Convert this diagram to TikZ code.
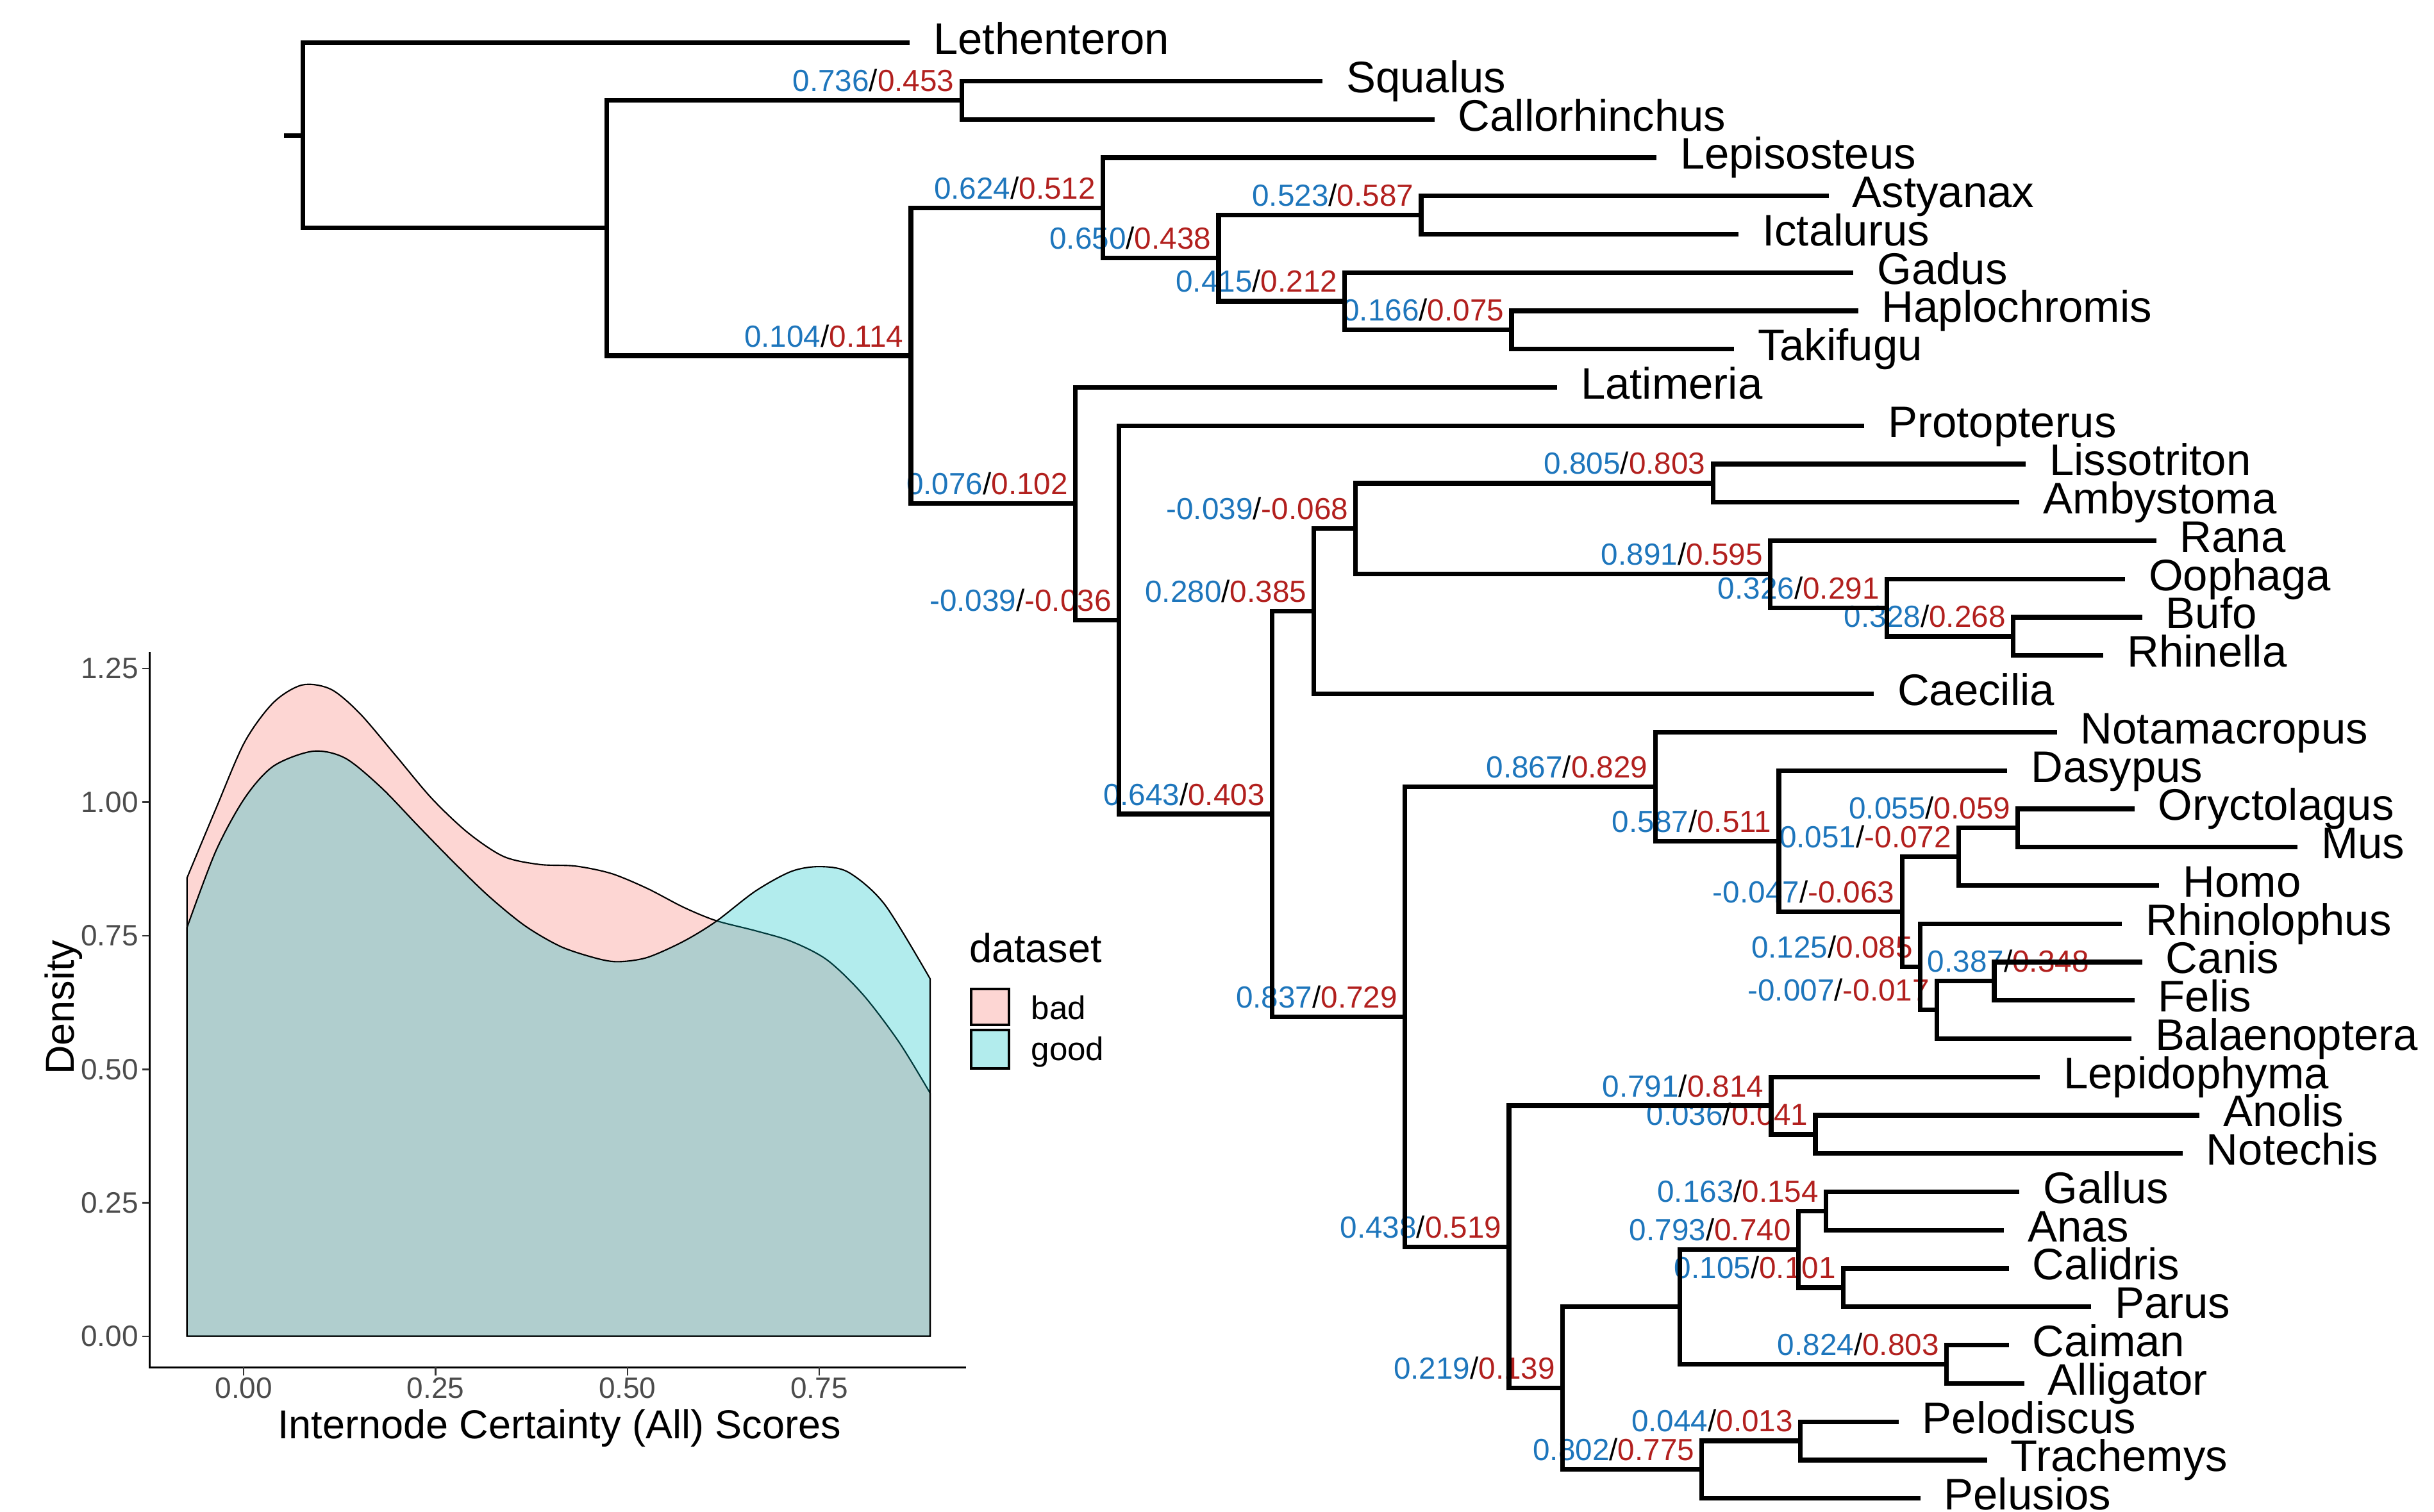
\documentclass[tikz,border=0pt]{standalone}
\usepackage{fontspec}
\setmainfont{Liberation Sans}
\usetikzlibrary{calc}
\definecolor{icblue}{RGB}{30,118,188}
\definecolor{icred}{RGB}{178,32,30}
\definecolor{badfill}{RGB}{248,118,109}
\definecolor{goodfill}{RGB}{0,191,196}
\definecolor{ticklab}{gray}{0.30}
\definecolor{tickcol}{gray}{0.20}
\newcommand{\icpair}[2]{\textcolor{icblue}{#1}/\textcolor{icred}{#2}}

\begin{document}
\begin{tikzpicture}[x=0.02cm, y=-0.02cm,
  branch/.style={line width=1.7pt, line join=miter},
  taxon/.style={anchor=base west, inner sep=0pt, font=\fontsize{16.2}{19}\selectfont},
  certlab/.style={anchor=base east, inner sep=0pt, font=\fontsize{11.2}{13}\selectfont},
  ticktext/.style={inner sep=0pt, text=ticklab, font=\fontsize{10.8}{13}\selectfont},
  axtitle/.style={inner sep=0pt, font=\fontsize{14.8}{17}\selectfont},
  keytext/.style={anchor=base west, inner sep=0pt, font=\fontsize{12}{14}\selectfont},
  densbad/.style={fill=badfill, fill opacity=0.3, draw=black, line width=0.5pt},
  densgood/.style={fill=goodfill, fill opacity=0.3, draw=black, line width=0.5pt}]
\useasboundingbox (0,0) rectangle (1568,974);

\foreach \tx/\xe/\nm [count=\i from 0] in {
  lethe/586/Lethenteron, squal/852/Squalus, callo/924/Callorhinchus,
  lepis/1067/Lepisosteus, astya/1178/Astyanax, ictal/1120/Ictalurus,
  gadus/1194/Gadus, haplo/1197/Haplochromis, takif/1117/Takifugu,
  latim/1003/Latimeria, proto/1201/Protopterus, lisso/1305/Lissotriton,
  ambys/1301/Ambystoma, rana/1389/Rana, ooph/1369/Oophaga,
  bufo/1380/Bufo, rhine/1355/Rhinella, caeci/1207/Caecilia,
  notam/1325/Notamacropus, dasyp/1293/Dasypus, oryct/1375/Oryctolagus,
  mus/1480/Mus, homo/1391/Homo, rhinol/1367/Rhinolophus,
  canis/1380/Canis, felis/1375/Felis, balae/1373/Balaenoptera,
  lepid/1314/Lepidophyma, anoli/1417/Anolis, notec/1406/Notechis,
  gallu/1301/Gallus, anas/1291/Anas, calid/1294/Calidris,
  parus/1347/Parus, caima/1294/Caiman, allig/1304/Alligator,
  pelod/1223/Pelodiscus, trach/1280/Trachemys, pelus/1237/Pelusios} {
  \coordinate (\tx) at (\xe,{27.5+24.68*\i});
  \node[taxon] (\tx-lab) at ({\xe+15},{34.9+24.68*\i}) {\nm};
}

\coordinate (stub) at (183,87.19);
\coordinate (root) at (195,87.19);
\coordinate (gnath) at (391,146.87);
\coordinate (chond) at (619.5,64.52);
\coordinate (osteich) at (586.8,229.22);
\coordinate (acti) at (710.5,133.93);
\coordinate (teleo) at (785,166.33);
\coordinate (astic) at (915.5,138.56);
\coordinate (gadcl) at (866.3,194.09);
\coordinate (hapta) at (973.7,212.6);
\coordinate (sarco) at (692.8,324.5);
\coordinate (rhipi) at (720.8,399.39);
\coordinate (tetra) at (819.5,524.47);
\coordinate (amphi) at (846.5,393.84);
\coordinate (batra) at (873.3,340.63);
\coordinate (caud) at (1103.5,311.32);
\coordinate (anura) at (1140.3,369.94);
\coordinate (oobu) at (1215.5,391.53);
\coordinate (bufrhi) at (1296.8,410.04);
\coordinate (amnio) at (905,655.1);
\coordinate (mammal) at (1066.3,506.83);
\coordinate (euth) at (1145.9,541.92);
\coordinate (boreo) at (1225.3,587.43);
\coordinate (euarch) at (1261.8,551.95);
\coordinate (glires) at (1299.9,533.44);
\coordinate (laura) at (1237,622.9);
\coordinate (scrot) at (1247.8,650.67);
\coordinate (carniv) at (1284.7,632.16);
\coordinate (sauria) at (972.1,803.38);
\coordinate (squam) at (1141,712.37);
\coordinate (anono) at (1169.5,730.88);
\coordinate (archelo) at (1006.6,894.39);
\coordinate (archos) at (1082.1,841.94);
\coordinate (aves) at (1158.5,804.92);
\coordinate (galloan) at (1176.4,780.24);
\coordinate (neoav) at (1187.4,829.6);
\coordinate (croc) at (1253.9,878.96);
\coordinate (testu) at (1096.3,946.83);
\coordinate (peltra) at (1159.8,928.32);

\foreach \n/\b/\r in {chond/0.736/0.453, osteich/0.104/0.114, acti/0.624/0.512,
  teleo/0.650/0.438, astic/0.523/0.587, gadcl/0.415/0.212, hapta/0.166/0.075,
  sarco/0.076/0.102, rhipi/-0.039/-0.036, tetra/0.643/0.403, amphi/0.280/0.385,
  batra/-0.039/-0.068, caud/0.805/0.803, anura/0.891/0.595, oobu/0.326/0.291,
  bufrhi/0.328/0.268, amnio/0.837/0.729, mammal/0.867/0.829, euth/0.587/0.511,
  boreo/-0.047/-0.063, euarch/0.051/-0.072, glires/0.055/0.059, laura/0.125/0.085,
  scrot/-0.007/-0.017, sauria/0.438/0.519, squam/0.791/0.814,
  anono/0.036/0.041, archelo/0.219/0.139, aves/0.793/0.740, galloan/0.163/0.154,
  neoav/0.105/0.101, croc/0.824/0.803, testu/0.802/0.775, peltra/0.044/0.013}
  \node[certlab] (\n-ic) at ($(\n)+(-4.5,-5.8)$) {\icpair{\b}{\r}};
\node[certlab] (carniv-ic) at ($(carniv)+(61.3,-5.8)$) {\icpair{0.387}{0.348}};

\draw[branch] (stub) -- (root);
\foreach \p/\c in {root/lethe, root/gnath, gnath/chond, gnath/osteich,
  chond/squal, chond/callo, osteich/acti, osteich/sarco, acti/lepis, acti/teleo,
  teleo/astic, teleo/gadcl, astic/astya, astic/ictal, gadcl/gadus, gadcl/hapta,
  hapta/haplo, hapta/takif, sarco/latim, sarco/rhipi, rhipi/proto, rhipi/tetra,
  tetra/amphi, tetra/amnio, amphi/batra, amphi/caeci, batra/caud, batra/anura,
  caud/lisso, caud/ambys, anura/rana, anura/oobu, oobu/ooph, oobu/bufrhi,
  bufrhi/bufo, bufrhi/rhine, amnio/mammal, amnio/sauria, mammal/notam,
  mammal/euth, euth/dasyp, euth/boreo, boreo/euarch, boreo/laura,
  euarch/glires, euarch/homo, glires/oryct, glires/mus, laura/rhinol,
  laura/scrot, scrot/carniv, scrot/balae, carniv/canis, carniv/felis,
  sauria/squam, sauria/archelo, squam/lepid, squam/anono, anono/anoli,
  anono/notec, archelo/archos, archelo/testu, archos/aves, archos/croc,
  aves/galloan, aves/neoav, galloan/gallu, galloan/anas, neoav/calid,
  neoav/parus, croc/caima, croc/allig, testu/peltra, testu/pelus,
  peltra/pelod, peltra/trach}
  \draw[branch] (\p) |- (\c);

\begin{scope}[shift={(3.14cm,-17.22cm)}, x=9.888cm, y=6.884cm]
\filldraw[densbad] (-0.0738,0) -- plot[smooth] coordinates {
  (-0.0738,0.858) (-0.0363,0.987) (0.0012,1.112) (0.0387,1.186) (0.0762,1.219)
  (0.1137,1.211) (0.1512,1.166) (0.1981,1.087) (0.2449,1.007) (0.2918,0.943)
  (0.3387,0.898) (0.3856,0.883) (0.4324,0.880) (0.4793,0.866) (0.5262,0.838)
  (0.5731,0.803) (0.6153,0.778) (0.6668,0.759) (0.7137,0.739) (0.7606,0.704)
  (0.8074,0.639) (0.8543,0.550) (0.8946,0.455)} -- (0.8946,0) -- cycle;
\filldraw[densgood] (-0.0738,0) -- plot[smooth] coordinates {
  (-0.0738,0.765) (-0.0363,0.908) (0.0012,1.007) (0.0387,1.067) (0.0902,1.095)
  (0.1324,1.082) (0.1793,1.027) (0.2262,0.957) (0.2731,0.888) (0.3199,0.823)
  (0.3668,0.768) (0.4137,0.729) (0.4606,0.707) (0.4887,0.701) (0.5262,0.709)
  (0.5731,0.739) (0.6153,0.776) (0.6668,0.833) (0.7137,0.870) (0.7512,0.879)
  (0.7887,0.868) (0.8355,0.808) (0.8946,0.669)} -- (0.8946,0) -- cycle;
\end{scope}

\coordinate (ytop) at (96.4,420);
\coordinate (orig) at (96.4,881);
\coordinate (xend) at (622.5,881);
\draw[line width=0.6pt] (ytop) -- (orig) -- (xend);
\foreach \v [count=\k from 0] in {0.00,0.25,0.50,0.75,1.00,1.25} {
  \draw[tickcol, line width=0.6pt] (91.5,{861-86.05*\k}) -- (96.4,{861-86.05*\k});
  \node[ticktext, anchor=east] (ytick\k) at (89.5,{861-86.05*\k}) {\v};
}
\foreach \v [count=\k from 0] in {0.00,0.25,0.50,0.75} {
  \draw[tickcol, line width=0.6pt] ({157+123.6*\k},881) -- ({157+123.6*\k},886);
  \node[ticktext, anchor=base] (xtick\k) at ({157+123.6*\k},901) {\v};
}
\node[axtitle, anchor=base] (xtitle) at (360.3,926.7) {Internode Certainty (All) Scores};
\node[axtitle, anchor=base, rotate=90] (ytitle) at (47.5,649) {Density};

\node[axtitle, anchor=base west] (legtitle) at (624.2,620) {dataset};
\filldraw[fill=badfill, fill opacity=0.3, draw=black, line width=0.95pt]
  (625.5,637) rectangle (650,660.3);
\filldraw[fill=goodfill, fill opacity=0.3, draw=black, line width=0.95pt]
  (625.5,663.8) rectangle (650,688.2);
\node[keytext] (keybad) at (664,656.6) {bad};
\node[keytext] (keygood) at (664,683.4) {good};
\end{tikzpicture}
\end{document}
